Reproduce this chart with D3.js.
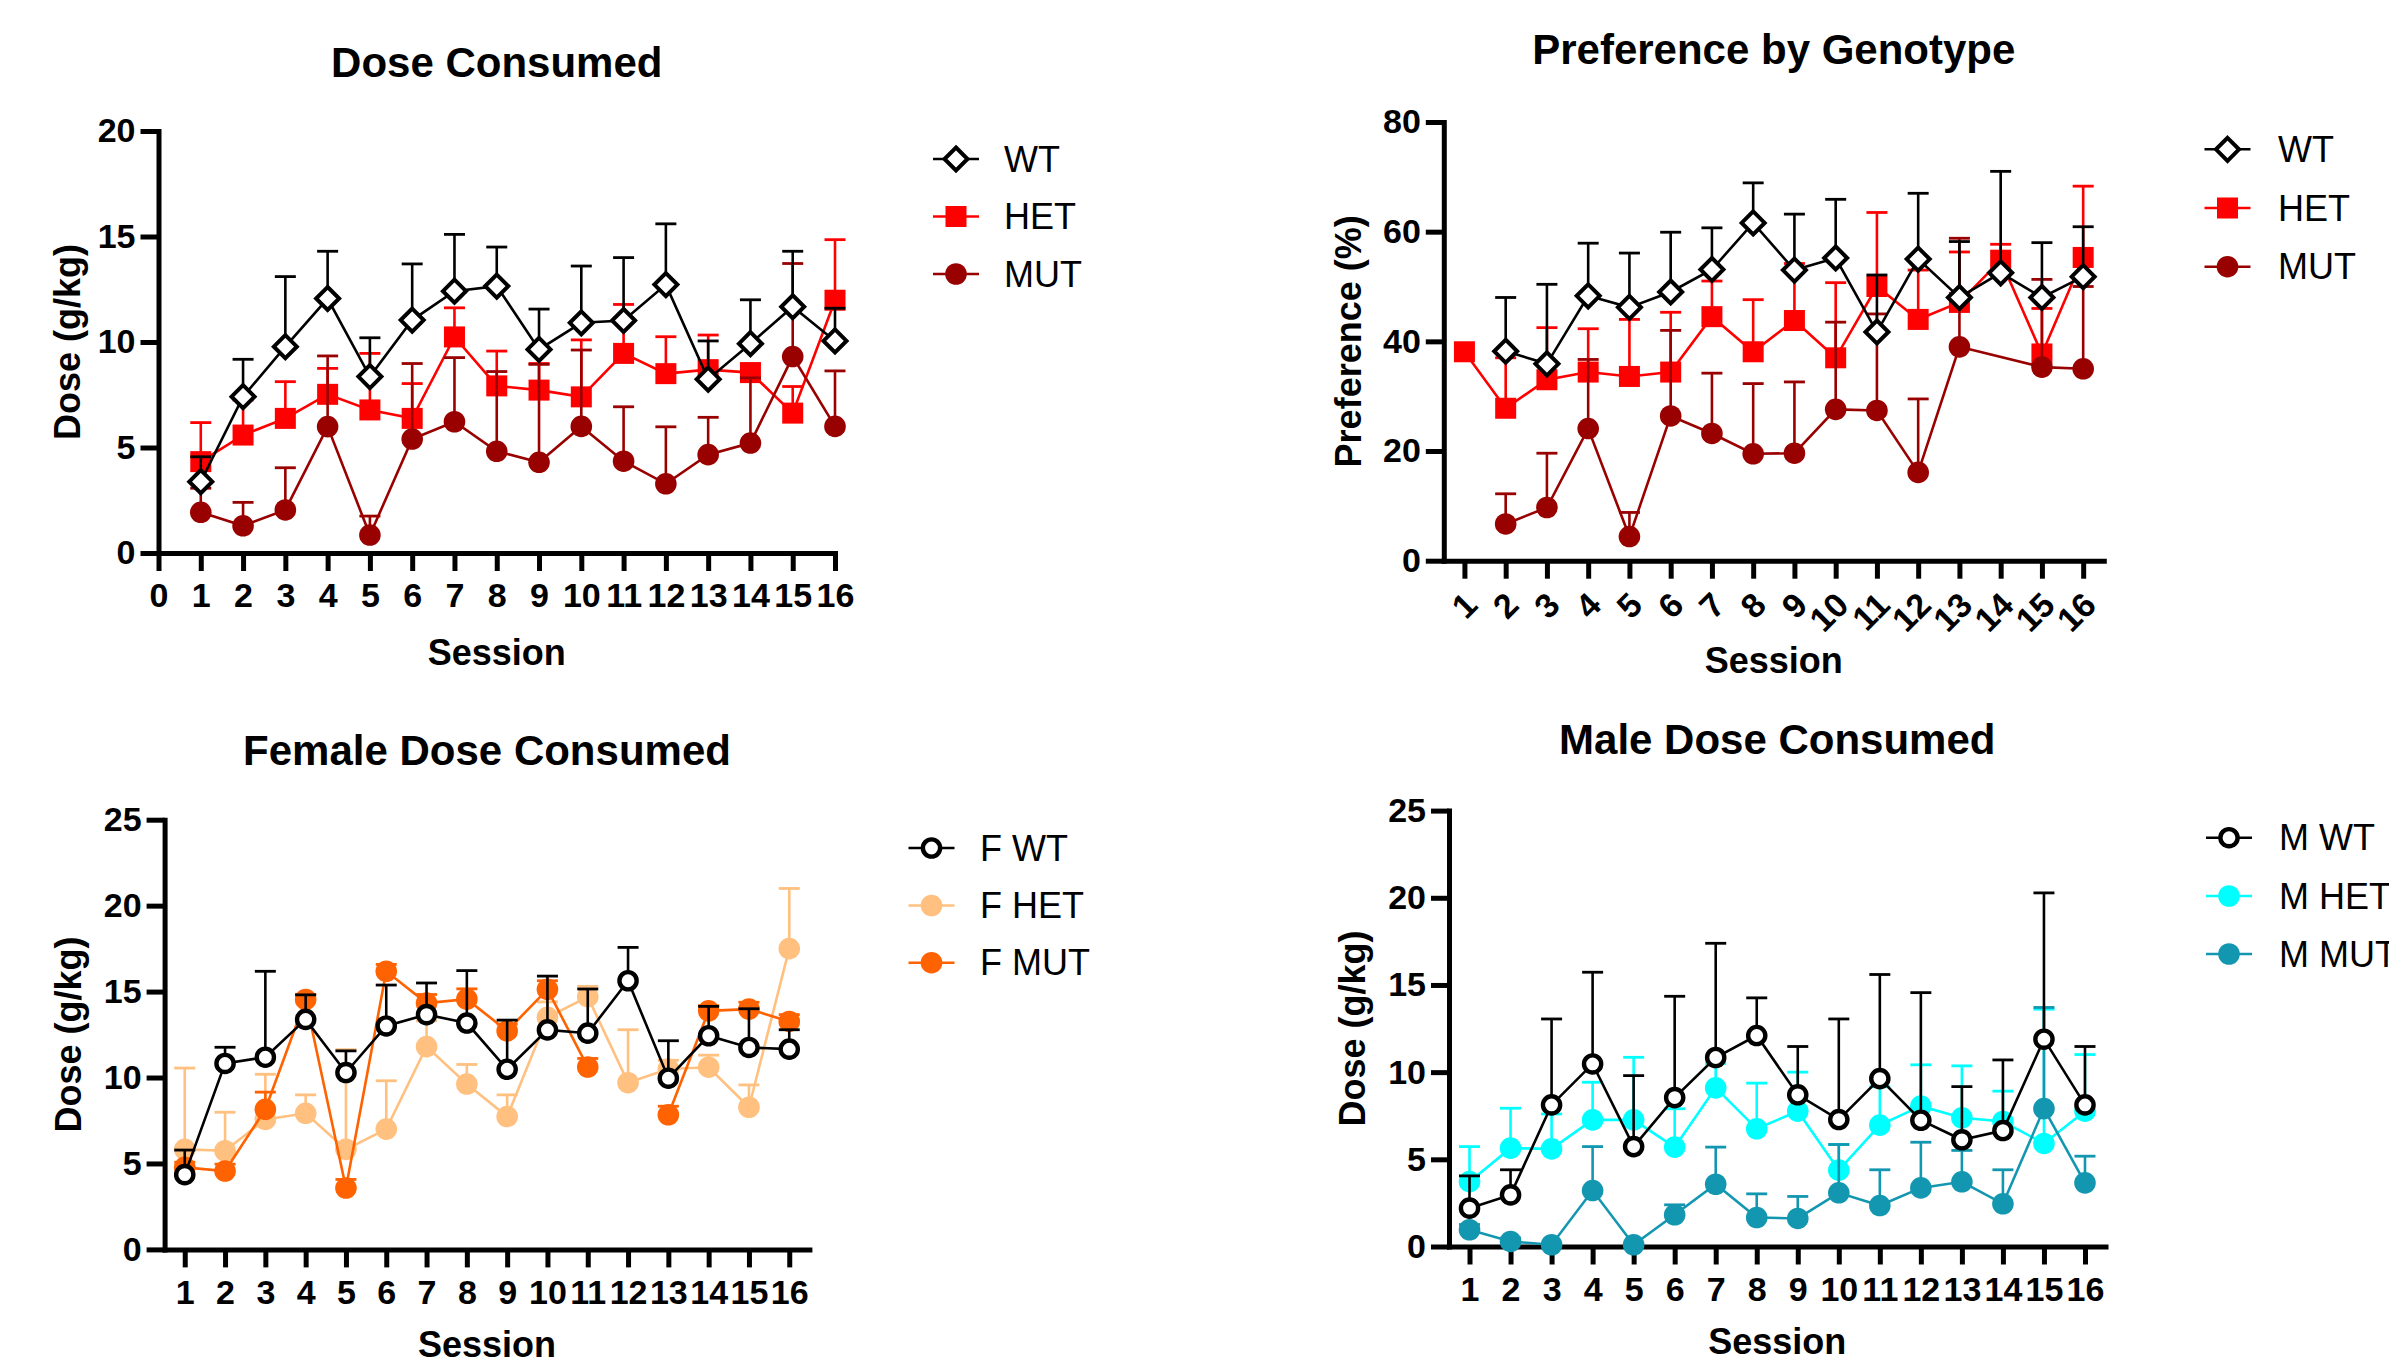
<!DOCTYPE html>
<html>
<head>
<meta charset="utf-8">
<script src="https://cdn.jsdelivr.net/npm/d3@7"></script>
<style>
  body { margin: 0; background: #fff; }
  svg text { font-family: 'Liberation Sans', Arial, sans-serif; }
  svg .tick text { font-family: 'Liberation Sans Narrow', 'Arial Narrow', 'Liberation Sans', Arial, sans-serif; }
</style>
</head>
<body>
<script>
// ---- data ----
const sessions = [1, 2, 3, 4, 5, 6, 7, 8, 9, 10, 11, 12, 13, 14, 15, 16]
const sessionTicksDose = [0, 1, 2, 3, 4, 5, 6, 7, 8, 9, 10, 11, 12, 13, 14, 15, 16]
const doseTicks20 = [0, 5, 10, 15, 20]
const doseTicks25 = [0, 5, 10, 15, 20, 25]
const prefTicks = [0, 20, 40, 60, 80]

// Dose Consumed (mean, SEM)
const doseWT = [3.38, 7.41, 9.78, 12.06, 8.36, 11.04, 12.41, 12.65, 9.65, 10.91, 11.02, 12.72, 8.24, 9.92, 11.67, 10.05]
const doseWTsem = [1.18, 1.77, 3.32, 2.24, 1.84, 2.66, 2.69, 1.85, 1.91, 2.69, 2.98, 2.88, 1.81, 2.08, 2.63, 1.55]
const doseHET = [4.33, 5.59, 6.38, 7.52, 6.78, 6.38, 10.24, 7.92, 7.72, 7.40, 9.46, 8.50, 8.69, 8.55, 6.63, 11.98]
const doseHETsem = [1.85, 1.66, 1.74, 1.23, 2.68, 1.65, 1.38, 1.65, 1.26, 2.70, 2.32, 1.75, 1.64, 0.40, 1.26, 2.87]
const doseMUT = [1.93, 1.29, 2.04, 5.99, 0.85, 5.40, 6.22, 4.82, 4.30, 6.00, 4.35, 3.28, 4.66, 5.21, 9.31, 6.00]
const doseMUTsem = [1.14, 1.11, 2.00, 3.35, 0.90, 3.58, 3.04, 3.78, 4.64, 3.62, 2.58, 2.70, 1.77, 3.09, 4.41, 2.63]

// Preference by Genotype (%)
const prefWT = [null, 38.2, 35.9, 48.3, 46.2, 49.0, 53.1, 61.6, 53.0, 55.2, 41.7, 55.0, 48.0, 52.5, 48.0, 51.8]
const prefWTsem = [null, 9.8, 14.5, 9.6, 9.9, 10.9, 7.6, 7.3, 10.2, 10.7, 10.4, 12.0, 10.2, 18.5, 10.0, 9.1]
const prefHET = [38.1, 27.8, 33.0, 34.4, 33.6, 34.4, 44.5, 38.1, 43.8, 37.0, 50.0, 44.0, 47.1, 54.8, 37.7, 55.3]
const prefHETsem = [0, 9.2, 9.5, 7.9, 10.4, 10.9, 6.5, 9.5, 10.4, 13.7, 13.5, 9.0, 9.2, 2.9, 8.3, 13.0]
const prefMUT = [null, 6.7, 9.7, 24.1, 4.4, 26.4, 23.2, 19.5, 19.6, 27.6, 27.4, 16.1, 39.0, null, 35.3, 35.0]
const prefMUTsem = [null, 5.5, 9.9, 12.6, 4.4, 15.6, 11.0, 12.8, 13.0, 15.9, 17.6, 13.4, 19.8, null, 16.0, 15.0]

// Female Dose Consumed
const femWT = [4.35, 10.82, 11.18, 13.38, 10.29, 13.0, 13.66, 13.17, 10.48, 12.77, 12.58, 15.63, 9.96, 12.43, 11.75, 11.65]
const femWTsem = [1.43, 0.94, 5.0, 1.43, 1.26, 2.38, 1.84, 3.05, 2.86, 3.13, 2.57, 1.94, 2.18, 1.71, 2.25, 1.13]
const femHET = [5.82, 5.74, 7.56, 7.92, 5.82, 7.0, 11.8, 9.62, 7.73, 13.5, 14.7, 9.7, 10.5, 10.6, 8.27, 17.5]
const femHETsem = [4.73, 2.24, 2.63, 1.07, 5.8, 2.81, 1.5, 1.14, 1.26, 0.9, 0.6, 3.08, 0.5, 0.7, 1.3, 3.5]
const femMUT = [4.77, 4.56, 8.15, 14.54, 3.57, 16.18, 14.33, 14.56, 12.71, 15.13, 10.61, null, 7.83, 13.88, 13.98, 13.26]
const femMUTsem = [0.3, 0.4, 1.0, 0.3, 0.5, 0.4, 0.5, 0.6, 0.4, 0.5, 0.5, null, 0.5, 0.3, 0.4, 0.4]

// Male Dose Consumed
const maleWT = [2.2, 2.96, 8.12, 10.47, 5.73, 8.54, 10.84, 12.1, 8.7, 7.28, 9.63, 7.24, 6.12, 6.65, 11.89, 8.12]
const maleWTsem = [1.85, 1.44, 4.93, 5.26, 4.07, 5.81, 6.55, 2.16, 2.77, 5.77, 5.97, 7.32, 3.05, 4.05, 8.39, 3.35]
const maleHET = [3.72, 5.64, 5.6, 7.26, 7.26, 5.7, 9.1, 6.75, 7.76, 4.38, 6.96, 8.05, 7.38, 7.17, 5.91, 7.76]
const maleHETsem = [2.01, 2.29, 2.0, 2.16, 3.59, 2.2, 1.4, 2.62, 2.24, 1.47, 2.2, 2.37, 2.98, 1.74, 7.7, 3.25]
const maleMUT = [0.96, 0.29, 0.1, 3.21, 0.1, 1.82, 3.57, 1.66, 1.61, 3.08, 2.35, 3.36, 3.71, 2.45, 7.91, 3.65]
const maleMUTsem = [0.3, 0.2, 0, 2.52, 0, 0.57, 2.13, 1.36, 1.26, 2.77, 2.05, 2.62, 1.8, 1.95, 5.8, 1.53]

const W = 2389
const H = 1357

const svg = d3.select('body').append('svg')
    .attr('width', W)
    .attr('height', H)

const panels = [
  {
    title: 'Dose Consumed', titleY: 62, yLabel: 'Dose (g/kg)', yLabelX: 67, sessionY: 652,
    xDomain: [0, 16], xRange: [158.5, 835], xTicks: sessionTicksDose,
    yDomain: [0, 20], yRange: [553, 131], yTicks: doseTicks20,
    legend: { x: 956, ys: [159, 216.5, 274], textX: 1004 },
    series: [
      { name: 'HET', values: doseHET, sem: doseHETsem, color: '#ff0000', marker: 'square' },
      { name: 'MUT', values: doseMUT, sem: doseMUTsem, color: '#990000', marker: 'circle' },
      { name: 'WT', values: doseWT, sem: doseWTsem, color: '#000000', marker: 'diamond' }
    ]
  },
  {
    title: 'Preference by Genotype', titleY: 49, yLabel: 'Preference (%)', yLabelX: 1348, sessionY: 660,
    xDomain: [0.5, 16.5], xRange: [1443.8, 2103.8], xTicks: sessions, rotated: true, bridgeGaps: true,
    yDomain: [0, 80], yRange: [560.7, 122], yTicks: prefTicks,
    legend: { x: 2227.5, ys: [149.3, 208, 266.7], textX: 2278 },
    series: [
      { name: 'HET', values: prefHET, sem: prefHETsem, color: '#ff0000', marker: 'square' },
      { name: 'MUT', values: prefMUT, sem: prefMUTsem, color: '#990000', marker: 'circle' },
      { name: 'WT', values: prefWT, sem: prefWTsem, color: '#000000', marker: 'diamond' }
    ]
  },
  {
    title: 'Female Dose Consumed', titleY: 750, yLabel: 'Dose (g/kg)', yLabelX: 68.6, sessionY: 1344,
    xDomain: [0.5, 16.5], xRange: [164.6, 809.4], xTicks: sessions,
    yDomain: [0, 25], yRange: [1249.4, 819.7], yTicks: doseTicks25,
    legend: { x: 931.5, ys: [848, 905.5, 962.7], textX: 980 },
    series: [
      { name: 'F HET', values: femHET, sem: femHETsem, color: '#ffc080', marker: 'circle' },
      { name: 'F MUT', values: femMUT, sem: femMUTsem, color: '#ff6200', marker: 'circle' },
      { name: 'F WT', values: femWT, sem: femWTsem, color: '#000000', marker: 'open' }
    ]
  },
  {
    title: 'Male Dose Consumed', titleY: 739, yLabel: 'Dose (g/kg)', yLabelX: 1352, sessionY: 1341,
    xDomain: [0.5, 16.5], xRange: [1449, 2105.5], xTicks: sessions,
    yDomain: [0, 25], yRange: [1246.5, 810.6], yTicks: doseTicks25,
    legend: { x: 2229, ys: [837.7, 896, 954], textX: 2279 },
    series: [
      { name: 'M HET', values: maleHET, sem: maleHETsem, color: '#00ffff', marker: 'circle' },
      { name: 'M MUT', values: maleMUT, sem: maleMUTsem, color: '#1397b0', marker: 'circle' },
      { name: 'M WT', values: maleWT, sem: maleWTsem, color: '#000000', marker: 'open' }
    ]
  }
]

// legend order differs from draw order (WT on top when drawing)
const legendOrder = [2, 0, 1]

function drawMarker (sel, type, color) {
  if (type === 'diamond') {
    sel.append('path')
        .attr('d', 'M0,-11.5L11.5,0L0,11.5L-11.5,0Z')
        .attr('fill', '#fff')
        .attr('stroke', color)
        .attr('stroke-width', 4)
        .attr('stroke-linejoin', 'miter')
  } else if (type === 'square') {
    sel.append('rect')
        .attr('x', -10.5).attr('y', -10.5)
        .attr('width', 21).attr('height', 21)
        .attr('fill', color)
  } else if (type === 'open') {
    sel.append('circle')
        .attr('r', 8.6)
        .attr('fill', '#fff')
        .attr('stroke', color)
        .attr('stroke-width', 4.4)
  } else {
    sel.append('circle')
        .attr('r', 10.8)
        .attr('fill', color)
  }
}

function drawPanel (p) {
  const g = svg.append('g')
  const x = d3.scaleLinear().domain(p.xDomain).range(p.xRange)
  const y = d3.scaleLinear().domain(p.yDomain).range(p.yRange)
  const y0 = y(p.yDomain[0])
  const xMid = (p.xRange[0] + p.xRange[1]) / 2

  // axes
  const xAxis = d3.axisBottom(x)
      .tickValues(p.xTicks)
      .tickFormat(d3.format('d'))
      .tickSize(18)
      .tickSizeOuter(0)
      .tickPadding(12)

  const yAxis = d3.axisLeft(y)
      .tickValues(p.yTicks)
      .tickSize(18)
      .tickSizeOuter(0)
      .tickPadding(5)

  const gx = g.append('g')
      .attr('transform', 'translate(0,' + y0 + ')')
      .call(xAxis)
  const gy = g.append('g')
      .attr('transform', 'translate(' + p.xRange[0] + ',0)')
      .call(yAxis)

  ;[gx, gy].forEach(a => {
    a.attr('font-family', null).attr('font-size', 34).attr('font-weight', 'bold')
    a.select('.domain').attr('stroke', '#000').attr('stroke-width', 5).attr('stroke-linecap', 'square')
    a.selectAll('.tick line').attr('stroke', '#000').attr('stroke-width', 5)
    a.selectAll('.tick text').attr('fill', '#000')
  })

  if (p.rotated) {
    gx.selectAll('.tick text')
        .attr('text-anchor', 'end')
        .attr('dy', '0.35em')
        .attr('y', 0)
        .attr('transform', 'translate(6,38) rotate(-45)')
  }

  // series: error bars (upper only), connecting line, symbols
  p.series.forEach(s => {
    const pts = sessions.map((d, i) => ({ s: d, v: s.values[i], e: s.sem[i] }))
    const have = pts.filter(d => d.v != null)
    const sg = g.append('g')

    const withErr = have.filter(d => d.e != null && d.e > 0)
    sg.selectAll('line.stem')
      .data(withErr)
      .join('line')
        .attr('class', 'stem')
        .attr('x1', d => x(d.s)).attr('x2', d => x(d.s))
        .attr('y1', d => y(d.v)).attr('y2', d => y(d.v + d.e))
        .attr('stroke', s.color)
        .attr('stroke-width', 2.6)
    sg.selectAll('line.cap')
      .data(withErr)
      .join('line')
        .attr('class', 'cap')
        .attr('x1', d => x(d.s) - 10.5).attr('x2', d => x(d.s) + 10.5)
        .attr('y1', d => y(d.v + d.e)).attr('y2', d => y(d.v + d.e))
        .attr('stroke', s.color)
        .attr('stroke-width', 2.8)

    const line = d3.line()
        .defined(d => d.v != null)
        .x(d => x(d.s))
        .y(d => y(d.v))

    sg.append('path')
        .datum(p.bridgeGaps ? have : pts)
        .attr('d', line)
        .attr('fill', 'none')
        .attr('stroke', s.color)
        .attr('stroke-width', 2.6)

    sg.selectAll('g.pt')
      .data(have)
      .join('g')
        .attr('class', 'pt')
        .attr('transform', d => 'translate(' + x(d.s) + ',' + y(d.v) + ')')
        .each(function () { drawMarker(d3.select(this), s.marker, s.color) })
  })

  // titles
  g.append('text')
      .attr('x', xMid).attr('y', p.titleY)
      .attr('text-anchor', 'middle').attr('dominant-baseline', 'central')
      .attr('font-size', 42).attr('font-weight', 'bold')
      .text(p.title)

  g.append('text')
      .attr('x', xMid).attr('y', p.sessionY)
      .attr('text-anchor', 'middle').attr('dominant-baseline', 'central')
      .attr('font-size', 36).attr('font-weight', 'bold')
      .text('Session')

  const yMid = (p.yRange[0] + p.yRange[1]) / 2
  g.append('text')
      .attr('transform', 'translate(' + p.yLabelX + ',' + yMid + ') rotate(-90)')
      .attr('text-anchor', 'middle').attr('dominant-baseline', 'central')
      .attr('font-size', 36).attr('font-weight', 'bold')
      .text(p.yLabel)

  // legend
  const lg = g.append('g')
  legendOrder.forEach((si, k) => {
    const s = p.series[si]
    const row = lg.append('g')
        .attr('transform', 'translate(' + p.legend.x + ',' + p.legend.ys[k] + ')')
    row.append('line')
        .attr('x1', -23).attr('x2', 23)
        .attr('stroke', s.color)
        .attr('stroke-width', 2.6)
    drawMarker(row, s.marker, s.color)
    lg.append('text')
        .attr('x', p.legend.textX).attr('y', p.legend.ys[k])
        .attr('dominant-baseline', 'central')
        .attr('font-size', 36)
        .text(s.name)
  })
}

panels.forEach(drawPanel)
</script>
</body>
</html>
